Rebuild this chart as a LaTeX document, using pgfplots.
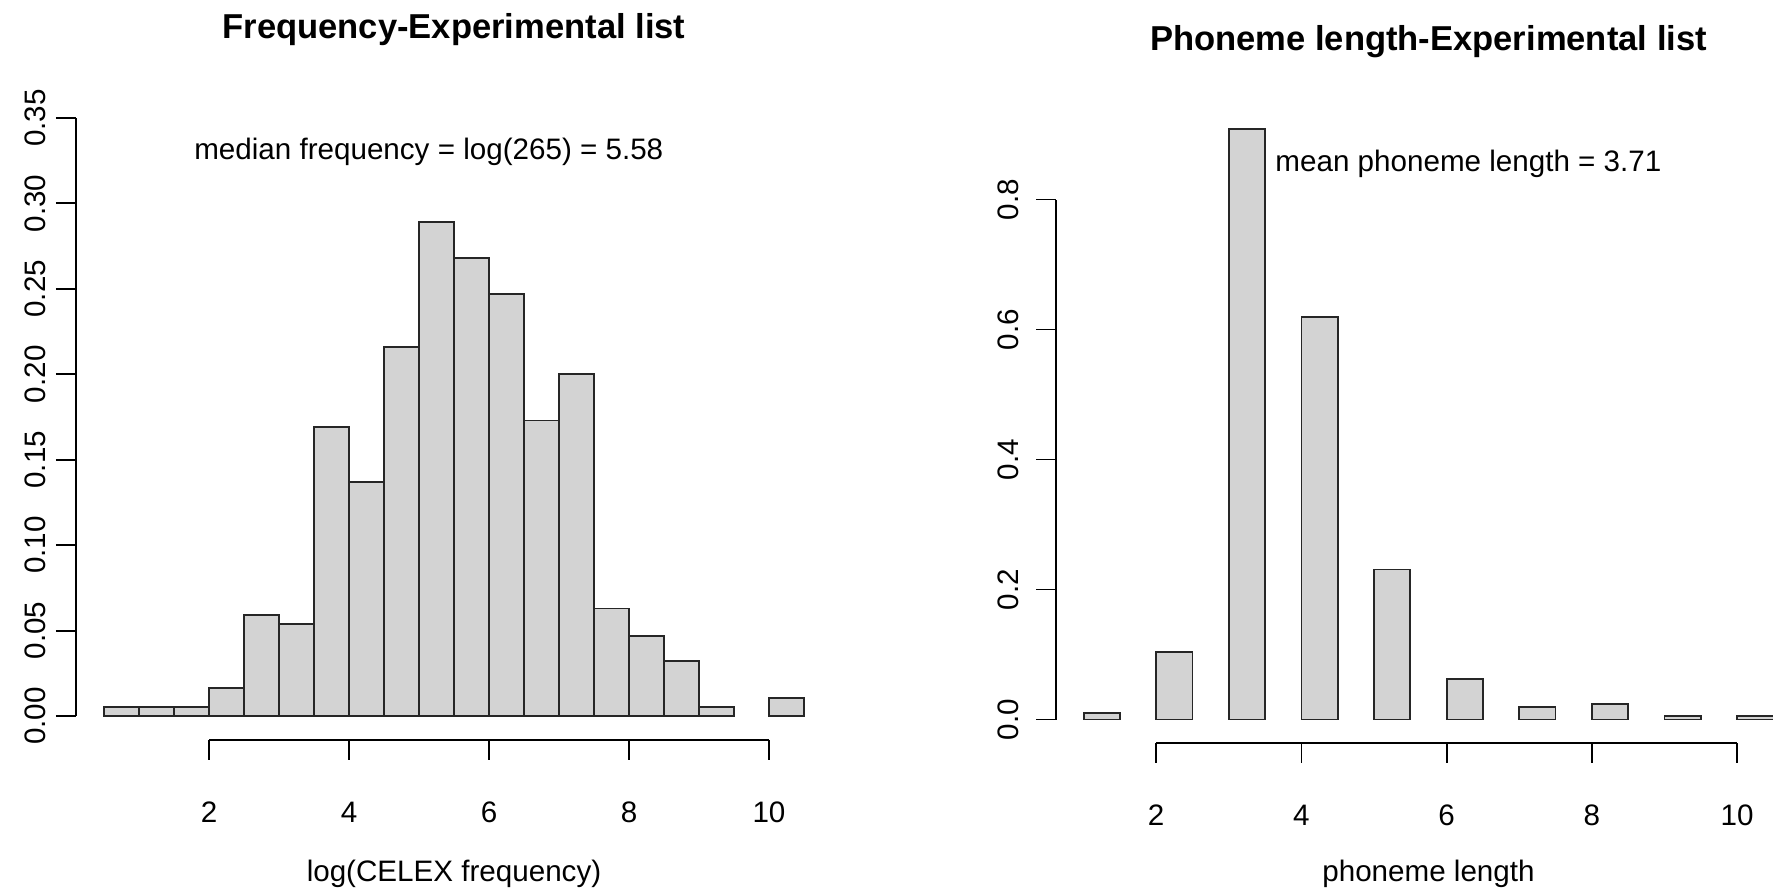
\documentclass[border=0pt]{standalone}
\usepackage{fontspec}
\setmainfont{Liberation Sans}
\usepackage{pgfplots}
\pgfplotsset{compat=1.18}
\definecolor{barfill}{HTML}{D3D3D3}

\newcommand\rfont{\fontsize{14.8}{17.5}\selectfont}

\pgfplotsset{
  rhist/.style={
    scale only axis,
    axis lines*=left,
    axis line style={draw=none},
    clip=false,
    tick align=outside,
    major tick length=10pt,
    tick style={black, line width=0.9pt},
    xtick={2,4,6,8,10},
    xtick pos=bottom, ytick pos=left,
    /pgf/number format/assume math mode=true,
    tick label style={font=\rfont},
    xticklabel style={anchor=center, yshift=-26pt},
    label style={font=\rfont},
    title style={at={(axis description cs:0.5,1)}, anchor=center, yshift=26pt,
      font=\bfseries\fontsize{17.28}{20}\selectfont},
    ybar, bar width=0.5, bar shift=0pt,
  },
  hbar/.style={fill=barfill, draw=black!85, line width=0.9pt},
}

\begin{document}
\begin{tikzpicture}
\useasboundingbox (0,0) rectangle (886.5pt,447pt);

% left: log frequency
\begin{axis}[rhist,
    at={(38pt,77pt)}, anchor=south west,
    width=378pt, height=323pt,
    xmin=0.1, xmax=10.9,
    ymin=-0.014, ymax=0.364,
    ytick={0,0.05,...,0.35},
    yticklabel style={xshift=-10.5pt, rotate=90, anchor=center,
      /pgf/number format/.cd, fixed, fixed zerofill, precision=2},
    title={Frequency-Experimental list},
    xlabel={log(CELEX frequency)},
    xlabel style={at={(axis description cs:0.5,0)}, anchor=center, yshift=-67pt},
  ]
  \addplot[hbar] coordinates {
    (0.75,0.0054) (1.25,0.0054) (1.75,0.0054) (2.25,0.0162)
    (2.75,0.059) (3.25,0.0537) (3.75,0.169) (4.25,0.137)
    (4.75,0.216) (5.25,0.289) (5.75,0.268) (6.25,0.247)
    (6.75,0.173) (7.25,0.200) (7.75,0.063) (8.25,0.047)
    (8.75,0.032) (9.25,0.0054) (10.25,0.0108)
  };
  \draw[line width=0.9pt] (axis cs:2,-0.014) -- (axis cs:10,-0.014);
  \draw[line width=0.9pt] (axis cs:0.1,0) -- (axis cs:0.1,0.35);
  \node[font=\rfont] at (axis cs:5.14,0.33)
    {median frequency = log(265) = 5.58};
\end{axis}

% right: phoneme length
\begin{axis}[rhist,
    at={(528pt,75.5pt)}, anchor=south west,
    width=372.5pt, height=318.5pt,
    xmin=0.62, xmax=10.88,
    ymin=-0.036, ymax=0.944,
    ytick={0,0.2,...,0.8},
    yticklabel style={xshift=-14pt, rotate=90, anchor=center,
      /pgf/number format/.cd, fixed, fixed zerofill, precision=1},
    title={Phoneme length-Experimental list},
    xlabel={phoneme length},
    xlabel style={at={(axis description cs:0.5,0)}, anchor=center, yshift=-65.5pt},
  ]
  \addplot[hbar] coordinates {
    (1.25,0.010) (2.25,0.104) (3.25,0.908) (4.25,0.619) (5.25,0.231)
    (6.25,0.063) (7.25,0.019) (8.25,0.024) (9.25,0.005) (10.25,0.005)
  };
  \draw[line width=0.9pt] (axis cs:2,-0.036) -- (axis cs:10,-0.036);
  \draw[line width=0.9pt] (axis cs:0.62,0) -- (axis cs:0.62,0.8);
  \node[font=\rfont] at (axis cs:6.3,0.855)
    {mean phoneme length = 3.71};
\end{axis}
\end{tikzpicture}
\end{document}
